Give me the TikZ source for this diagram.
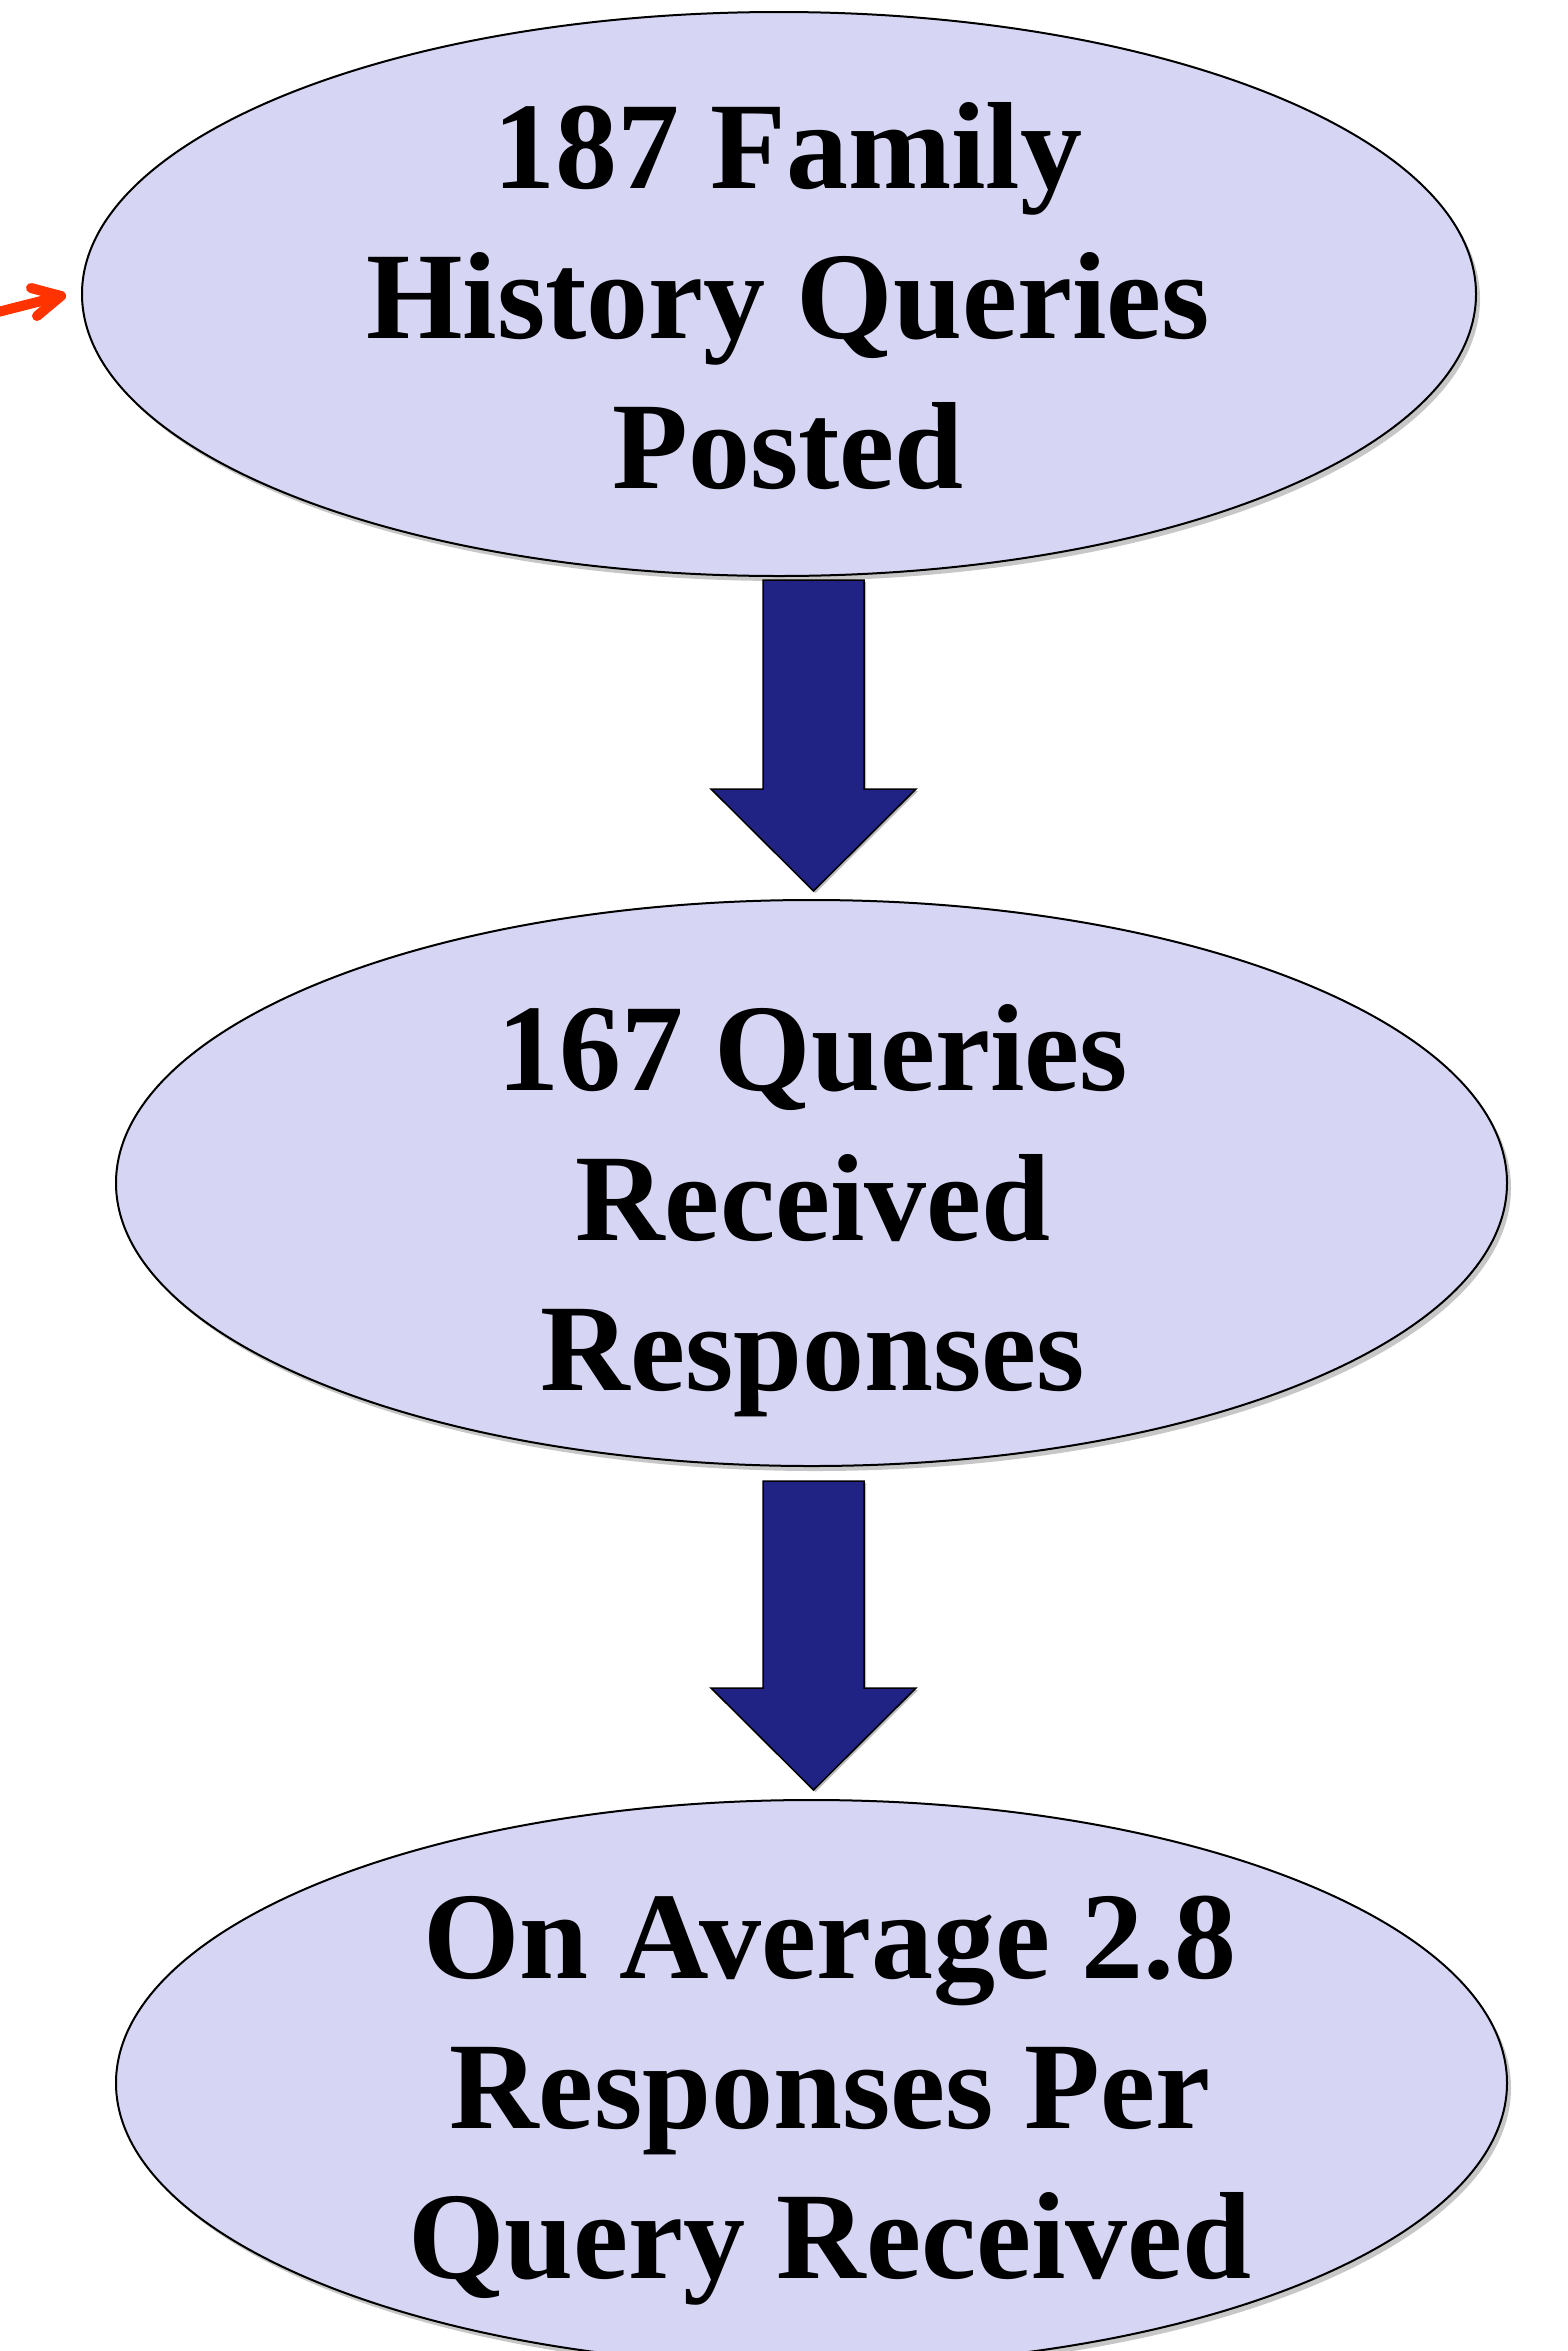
\documentclass[tikz,border=0pt]{standalone}
\usepackage{fontspec}
\setmainfont{Liberation Serif}
\usetikzlibrary{shapes.geometric,shadows,calc}
\definecolor{ellfill}{HTML}{D6D6F4}
\definecolor{navyfill}{HTML}{202284}
\definecolor{redarr}{HTML}{FF3300}
\tikzset{
  ell/.style={ellipse, draw=black, line width=2pt, fill=ellfill, inner sep=0pt,
    drop shadow={shadow xshift=4pt, shadow yshift=-5pt, fill=black, opacity=0.22}},
  txt/.style={font=\bfseries\fontsize{124}{150}\selectfont, align=center, inner sep=0pt},
  blockarrowstyle/.style={fill=navyfill, draw=black, line width=1.5pt,
    drop shadow={shadow xshift=2pt, shadow yshift=-2pt, fill=black, opacity=0.25}},
  redline/.style={draw=redarr, line width=10pt, line cap=round, line join=round}
}
\newcommand\blockarrow[2]{%
  \path[blockarrowstyle] let \p1=(#1), \p2=(#2) in
    (\x1-50.5,\y1) -- (\x1+50.5,\y1) -- (\x1+50.5,\y2+102) -- (\x1+102.5,\y2+102)
    -- (\x1,\y2) -- (\x1-102.5,\y2+102) -- (\x1-50.5,\y2+102) -- cycle;}
\begin{document}
\begin{tikzpicture}[x=1pt,y=-1pt]
\useasboundingbox (0,0) rectangle (1567,2351);
\fill[white] (0,0) rectangle (1567,2351);
\clip (0,0) rectangle (1567,2351);

\node[ell, minimum width=1394pt, minimum height=564pt] (e1) at (779,294) {};
\node[ell, minimum width=1391pt, minimum height=566pt] (e2) at (811.5,1183) {};
\node[ell, minimum width=1391pt, minimum height=566pt] (e3) at (811.5,2083) {};

\node[txt] (t1) at (788,308) {\strut 187 Family\\ \strut History Queries\\ \strut Posted};
\node[txt] (t2) at (813,1210) {\strut 167 Queries\\ \strut Received\\ \strut Responses};
\node[txt] (t3) at (830,2098) {\strut On Average 2.8\\ \strut Responses Per\\ \strut Query Received};

\coordinate (a1s) at ($(e2.north |- e1.south)+(2,3)$);
\coordinate (a1t) at ($(e2.north)+(2,-8)$);
\coordinate (a2s) at ($(e3.north |- e2.south)+(2,14)$);
\coordinate (a2t) at ($(e3.north)+(2,-9)$);
\blockarrow{a1s}{a1t}
\blockarrow{a2s}{a2t}

\coordinate (r0) at (-2,312);
\coordinate (rt) at (61,296);
\coordinate (rb1) at (31,288);
\coordinate (rb2) at (37,316);
\draw[redline] (r0) -- (rt);
\draw[redline] (rb1) -- (rt) -- (rb2);
\end{tikzpicture}
\end{document}
